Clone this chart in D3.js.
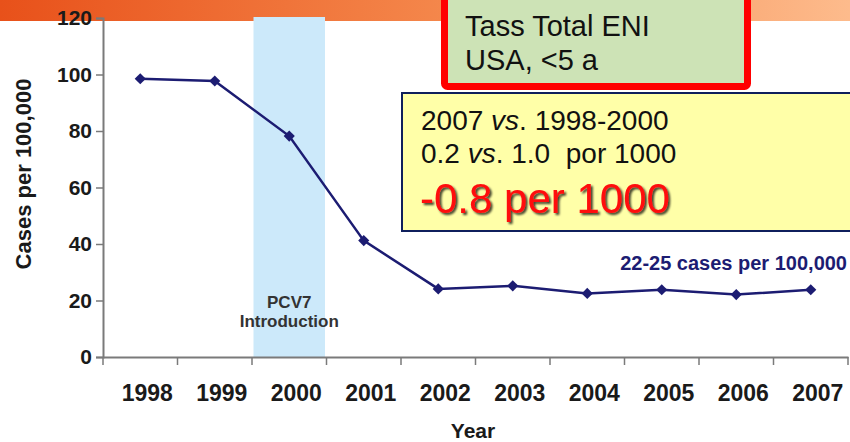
<!DOCTYPE html>
<html>
<head>
<meta charset="utf-8">
<script src="https://cdn.jsdelivr.net/npm/d3@7"></script>
<style>
  html, body { margin: 0; padding: 0; background: #fff; }
  svg { display: block; font-family: "Liberation Sans", Arial, sans-serif; }
</style>
</head>
<body>
<svg id="chart" width="850" height="442"></svg>
<script>
// Invasive pneumococcal disease rates, children under 5, USA
const years = ["1998", "1999", "2000", "2001", "2002", "2003", "2004", "2005", "2006", "2007"];
const cases = [98.5, 97.7, 78.2, 41.2, 24.1, 25.2, 22.5, 23.8, 22.1, 23.8];
const yTicks = [0, 20, 40, 60, 80, 100, 120];
const vaccineYear = "2000";

const svg = d3.select("#chart");
const W = 850;
const left = 103, right = 848;

const x = d3.scaleBand().domain(years).range([left, right]).padding(0);
const y = d3.scaleLinear().domain([0, 120]).range([357, 18]);

// header strip
const defs = svg.append("defs");
const grad = defs.append("linearGradient").attr("id", "hdr").attr("x1", 0).attr("x2", 1);
grad.append("stop").attr("offset", 0).attr("stop-color", "#e8511a");
grad.append("stop").attr("offset", 0.55).attr("stop-color", "#f58a4e");
grad.append("stop").attr("offset", 1).attr("stop-color", "#fdbb8c");
svg.append("rect").attr("x", 0).attr("y", 0).attr("width", W).attr("height", 21).attr("fill", "url(#hdr)");

// drop shadow for the big red figure
const f = defs.append("filter").attr("id", "shadow").attr("x", "-10%").attr("y", "-10%").attr("width", "130%").attr("height", "140%");
f.append("feDropShadow").attr("dx", 2).attr("dy", 2).attr("stdDeviation", 1.2).attr("flood-color", "#000").attr("flood-opacity", 0.75);

// PCV7 introduction band
const bandMid = x(vaccineYear) + x.bandwidth() / 2;
svg.append("rect")
  .attr("x", x(vaccineYear) + 1.5)
  .attr("y", y(120) - 1)
  .attr("width", x.bandwidth() - 3)
  .attr("height", y(0) - y(120) + 1)
  .attr("fill", "#cce9fa");

svg.append("text")
  .attr("y", 308)
  .attr("text-anchor", "middle")
  .attr("font-size", 17).attr("font-weight", "bold").attr("fill", "#333")
  .selectAll("tspan").data(["PCV7", "Introduction"]).join("tspan")
  .attr("x", bandMid)
  .attr("dy", (d, i) => i ? 19 : 0)
  .text(d => d);

// axes
const axisColor = "#7a7a7a";
const font = "Liberation Sans, Arial, sans-serif";
const yAxis = svg.append("g")
  .attr("transform", `translate(${left},0)`)
  .call(d3.axisLeft(y).tickValues(yTicks).tickSize(7).tickPadding(4));
yAxis.select(".domain").attr("stroke", axisColor).attr("stroke-width", 2);
yAxis.selectAll(".tick line").attr("stroke", axisColor).attr("stroke-width", 1.5);
yAxis.selectAll(".tick text")
  .attr("font-size", 21).attr("font-weight", "bold").attr("fill", "#1a1a1a")
  .attr("font-family", font);

const xAxis = svg.append("g")
  .attr("transform", `translate(0,${y(0)})`)
  .call(d3.axisBottom(x).tickSize(0).tickPadding(0));
xAxis.select(".domain").attr("stroke", axisColor).attr("stroke-width", 2);
xAxis.selectAll(".tick text")
  .attr("x", 7)
  .attr("y", 44)
  .attr("dy", 0)
  .attr("font-size", 23).attr("font-weight", "bold").attr("fill", "#1a1a1a")
  .attr("font-family", font);
// category boundary ticks
xAxis.selectAll("line.bound")
  .data(d3.range(years.length + 1))
  .join("line")
  .attr("class", "bound")
  .attr("x1", i => left + i * x.bandwidth())
  .attr("x2", i => left + i * x.bandwidth())
  .attr("y1", 0).attr("y2", 8)
  .attr("stroke", axisColor).attr("stroke-width", 1.5);

// axis titles
svg.append("text")
  .attr("transform", `translate(31,174) rotate(-90)`)
  .attr("text-anchor", "middle")
  .attr("font-size", 22).attr("font-weight", "bold").attr("fill", "#1a1a1a")
  .text("Cases per 100,000");

svg.append("text")
  .attr("x", 473)
  .attr("y", 438)
  .attr("text-anchor", "middle")
  .attr("font-size", 21).attr("font-weight", "bold").attr("fill", "#1a1a1a")
  .text("Year");

// series line and markers
const navy = "#1c1c72";
const cx = d => x(d) + x.bandwidth() / 2;
svg.append("path")
  .datum(years.map((yr, i) => [cx(yr), y(cases[i])]))
  .attr("d", d3.line())
  .attr("fill", "none").attr("stroke", navy).attr("stroke-width", 2.5);

svg.selectAll("path.marker")
  .data(years)
  .join("path")
  .attr("class", "marker")
  .attr("d", d3.symbol(d3.symbolSquare, 62))
  .attr("transform", (d, i) => `translate(${cx(d)},${y(cases[i])}) rotate(45)`)
  .attr("fill", navy);

svg.append("text")
  .attr("x", 847).attr("y", 270)
  .attr("text-anchor", "end")
  .attr("font-size", 20).attr("font-weight", "bold").attr("fill", navy)
  .text("22-25 cases per 100,000");

// title box
svg.append("rect")
  .attr("x", 444.5).attr("y", -6).attr("width", 303).attr("height", 92.5)
  .attr("rx", 3)
  .attr("fill", "#cde3b6").attr("stroke", "#ff0000").attr("stroke-width", 7);
svg.append("text")
  .attr("x", 465).attr("y", 36)
  .attr("font-size", 29).attr("fill", "#111")
  .text("Tass Total ENI");
svg.append("text")
  .attr("x", 465).attr("y", 70)
  .attr("font-size", 29).attr("fill", "#111")
  .text("USA, <5 a");

// comparison box
svg.append("rect")
  .attr("x", 402).attr("y", 93).attr("width", 460).attr("height", 138)
  .attr("fill", "#ffffa8").attr("stroke", "#0f1f5c").attr("stroke-width", 2);

const l1 = svg.append("text").attr("x", 421).attr("y", 130).attr("font-size", 28).attr("fill", "#111");
l1.append("tspan").text("2007 ");
l1.append("tspan").attr("font-style", "italic").text("vs");
l1.append("tspan").text(". 1998-2000");

const l2 = svg.append("text").attr("x", 421).attr("y", 163).attr("font-size", 28).attr("fill", "#111")
  .attr("xml:space", "preserve");
l2.append("tspan").text("0.2 ");
l2.append("tspan").attr("font-style", "italic").text("vs");
l2.append("tspan").text(". 1.0  por 1000");

svg.append("text")
  .attr("x", 420).attr("y", 213)
  .attr("font-size", 42).attr("fill", "#ff0a0a")
  .attr("filter", "url(#shadow)")
  .text("-0.8 per 1000");
</script>
</body>
</html>
